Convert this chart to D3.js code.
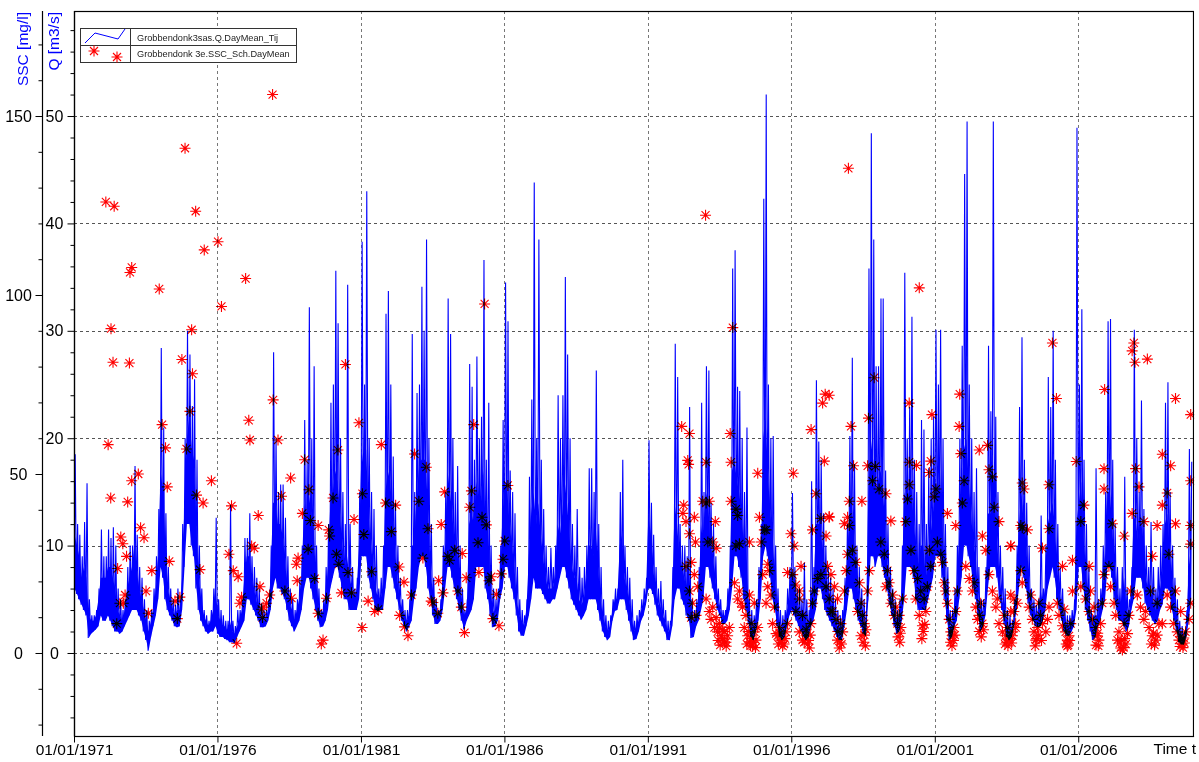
<!DOCTYPE html>
<html>
<head>
<meta charset="utf-8">
<script src="https://cdn.jsdelivr.net/npm/d3@7"></script>
<style>
  body { margin: 0; background: #fff; }
  svg { display: block; font-family: Arial, "Liberation Sans", sans-serif; }
</style>
</head>
<body>
<svg id="chart" width="1199" height="762"></svg>
<script>
// Monthly high / low of the daily discharge Q [m3/s], one block of five years per array
const qHi1971 = [18.5,12,11,9,12.2,15.8,5,3.5,3.5,4,6,11.5, 9,9,11.5,10.7,11.7,10,6,5,4,5,8,10, 10,17.4,11,8,7,5,4,3,4,6,9,13.4, 28.4,21,13,8,6,5,4.5,6,5,12,20,30, 27.8,23,25.5,18,10,6,4,3.5,3,4,6,12.6];
const qLo1971 = [6,5.5,5,4.5,4,3.5,1.4,1.8,2,2.2,2.5,3.5, 3,3,3.5,3,2.5,2,2,1.8,2,2.5,3,3.5, 4,4,4,3.5,3,2,1.2,0.2,1.5,2.5,3.5,5, 8,7,5,4,3.5,3,2.5,2.4,2.5,4,8,12, 12,10,9,6,4,3,2.5,2,1.8,2,2,2.5];
const qHi1976 = [5,4,3.5,3,3,13.8,3,2.5,4,4,5,10.7, 10.7,13,9,8,7,6,4.6,4,4,5,10,28, 20,15,15.7,15.7,12.6,9,6,5,4,5,7,10, 21.7,18,32.2,20,26.7,10,6,4,5,8,12,23.3, 25,35.6,30.7,20,15,12,34.3,12,8,6,7,15];
const qLo1976 = [1.8,1.5,1.5,1.3,1.2,1,1,0.9,1.5,2,2.5,3, 5,5,4.5,4,3.5,3,2.4,2.4,2.5,3,4,6, 7,6,6,5.5,5,4,3,2.5,2,2.5,3,4, 6,7,7,6,5,4,3,2.4,2.5,3,4,6, 7,8,8,7,6,5,5,4,4,4,4,5];
const qHi1981 = [38.3,25,43,20,15,13.4,10,6,7,10,31.6,33.7, 25,18.3,14,10,7,5,4,4,5,29.7,15,24.2, 25,34.1,30,38.5,20,12,7,5,4,5,10,15, 33,29.7,20,15,17.4,10,6,4,5,26.9,24.8,18, 27.6,20,22,36.6,18,23.3,10,6,5,6,10,21.7];
const qLo1981 = [9,9,9,7,6,5,4,3.9,4,4,6,8, 8,7,6,5,4,3,2.5,2,2.5,3,5,6, 8,9,9,8,6,5,3.5,2.7,2.7,3,4,6, 8,8,7,6,5,4,3,2.2,3,3.5,4,5, 8,8,8,8,6,5,3.5,2.4,2.5,3,5,6];
const qHi1986 = [34.5,30.9,17,15,13,8,5,4,3.5,5,16.4,23.6, 43.8,20,38.5,18,13.4,10,8,9.8,8,10,24,20, 24,35,27.8,20,12,10,13.4,8,7,8,10,17.2, 17.2,15,26.3,12,8,5,3.5,3,3.5,5,6,6, 15,18,10,8,7,5,3,3.5,4,5,6,7];
const qLo1986 = [8,8,7,6,5,3.5,2,1.6,1.6,2.5,3.5,5, 7,6,6,6,5.5,5,4.6,4.6,5,5,6,7, 8,8,7,6,5,4.5,4,3.5,3.1,3.5,4,5, 5,5,5,4,3,2,1.5,1.2,1.5,3,3.9,4, 5,5,5,4,3,2,1.2,1.3,2,3,3.5,4.5];
const qHi1991 = [19.8,14,11,8,6,6.7,5,4,3,3,8,28.8, 25.7,12,10,10,9,22.9,5,4,5,8,23.3,15, 26.7,26.3,14,12,9,6,5,4,4,6,10,35.8, 37.5,24.8,24.4,20,15,21,5,4,3.5,5,8,12, 42.3,52,25,20,20.2,10,6,4,3.5,4,6,8];
const qLo1991 = [6,6,5.5,4.5,3.5,3,2.5,2,1.2,1.2,2.5,5, 6,6,5,4.5,3.5,3,1.4,1.5,2.5,3,4,5, 8,8,7,6,5,4,3.5,2.7,2.7,3,4,6, 9,9,8,7,5,4,2.7,1.5,1.2,2,3,5, 9,10,9,7,5,4,2.5,1.5,1.2,1.5,2.5,3.5];
const qHi1996 = [14.9,8,6,6,5,8.4,5,4,16,8,25.4,19.7, 18,13,10,8,7,6,5,4,3.5,4,7,12, 20.2,27.5,17.6,10,8,6,5,4,35.8,48.4,38.5,26.7, 26.7,33,33,17,12,8,6,5,4,5,10,35.4, 20,22.9,31.3,18,15,12,21.7,20.8,12,17.2,20,22];
const qLo1996 = [4,3.5,3,2.5,2,1.5,1.2,1.5,2.5,3,4,6, 6,5,4,3.5,3,2.5,2,1.5,1.2,1.2,2.5,4, 6,6,5,4,3,2.5,1.8,1.6,5,9,9,8, 9,9,8,7,5.8,4.5,3.5,2.5,1.8,2,3,5, 8,8,8,7,5,4,4,4,4,5,6,7];
const qHi2001 = [30.1,25,30.1,20,12,8,4,4,6,10,20,28.6, 44.6,49.5,25,20,15,17.2,8,5,5,8,28.6,22.5, 49.5,22,15,10,8,6,4,3.5,3,5,10,22.9, 29.4,18,14,10,6,5,4.5,5,12.8,6,10,25.7, 22.9,30,18,12,8,6,4,3.5,3.5,4,5,48.9];
const qLo2001 = [9,9,9,7,5,3,1.2,1.5,2.5,3,5,7, 10,10,9,8,6,5,3.5,2,2.5,3.5,6,8, 8,8,7,5,4,2.7,1.5,1.2,1.5,2.5,4,6, 8,7,6,4.6,3.5,3,2.5,2.4,2.5,3,4,6, 7,8,7,5,4,3,2,1.6,1.6,2,2.5,4];
const qHi2006 = [25,32,18,12,8,4,3.5,17.2,5,6,10,15, 30.9,31.1,18,12,8,6,8,16.4,6,5,8,30.1, 20,15,23.5,13.4,10,8,12.2,8,6,8,10,12, 23.3,25.2,15,10,7,5,3,2.5,2,4,19,17.8];
const qLo2006 = [8,8,6,4,3,2,1.2,1.5,2.5,3,4,5, 8,8,7,5,4,3,3,2.5,2,2.5,4,5, 7,7,7,6,4.6,4,3.5,3,2.7,3,4,4.5, 6,6,5.8,4,3,2,1,0.8,0.8,1.5,3,5];
// Monthly top of the densely filled band of daily values
const qBand1971 = [11,10,9,7,8,7,3.5,3,3,3.5,5,7, 7,7,8,8,7,6,4,3.5,3,4,6,7, 8,10,8,6,5,4,3,2,3,4,6,9, 17,15,10,6,5,4,3.5,4,4,7,14,20, 22,19,18,12,7,5,3.5,3,2.5,3,4,6];
const qBand1976 = [3.5,3,2.5,2.5,2,3,2,1.8,2.5,3,4,7, 9,9,7,6,5,4,3.5,3,3,4,7,14, 14,12,12,11,9,6,4.5,4,3,4,5,7, 14,12,15,13,12,7,4.5,3.5,4,5,8,14, 15,17,16,13,10,8,9,7,6,5,6,10];
const qBand1981 = [19,17,19,13,10,8,6,5,5,6,15,17, 16,13,10,7,5,4,3.5,3,3.5,10,10,14, 17,18,18,18,12,8,5,4,3.5,4,7,10, 17,15,13,10,10,7,4.5,3.5,4,12,13,12, 16,14,14,17,12,12,6,4,3.5,4.5,7,13];
const qBand1986 = [16,15,12,10,8,5,3.5,3,2.5,4,9,13, 15,12,14,11,9,7,6,6,6,7,12,11, 13,16,14,11,8,7,7,5,4.5,5,7,10, 10,9,12,8,5,3.5,2.5,2,2.5,4,5,5, 10,11,7,6,5,3.5,2,2.5,3,4,4.5,5.5];
const qBand1991 = [13,11,8,6,4.5,4.5,3.5,3,2,2,5,14, 12,9,8,7,6,9,3,3,3.5,5,12,10, 15,14,10,9,7,5,4,3.5,3.5,4.5,7,17, 18,16,15,13,10,10,4,2.5,2,3.5,5,8, 20,22,17,13,11,7,4,2.5,2,2.5,4,5];
const qBand1996 = [8,6,4.5,4,3.5,4,3,2.5,6,5,12,12, 12,9,7,6,5,4,3.5,2.5,2,2.5,5,8, 13,14,11,7,5,4,3,2.5,15,20,18,15, 16,17,16,12,8,6,4.5,3.5,3,3.5,6,15, 14,15,16,12,10,8,10,10,7,9,11,13];
const qBand2001 = [16,15,17,12,8,5,2.5,2.5,4,6,11,15, 19,20,16,13,10,9,5,3.5,3.5,5,13,13, 18,14,10,7,5,4,2.5,2,2,3.5,6,12, 15,12,10,7,4.5,4,3.5,3.5,6,4.5,6,12, 13,14,12,8,5.5,4.5,3,2.5,2.5,3,3.5,12];
const qBand2006 = [14,16,11,8,5,3,2,3.5,3.5,4.5,6,9, 15,15,12,8,6,4.5,5,7,4,3.5,6,13, 12,10,13,10,7,6,6,5,4,5,6,7.5, 12,13,10,7,5,3.5,2,1.5,1.5,2.5,8,10];

// Suspended sediment concentration SSC [mg/l] samples: [decimal year, value]
const ssc1972 = [[1972.11,126],[1972.40,124.8],[1974.87,141],[1975.24,123.4],[1976.02,114.9],[1975.54,112.6],[1973.01,107.7],[1972.95,106.3],[1973.97,101.7],[1976.98,104.6],[1976.14,96.8],[1972.29,90.6],[1975.10,90.3],[1972.36,81.2],[1972.93,81],[1974.76,82],[1975.13,78],[1975.04,67.5],[1974.07,63.8],[1977.09,65],[1977.13,59.5],[1972.19,58.2],[1974.19,57.3],[1974.92,57],[1973.01,48.1],[1973.24,50],[1975.79,48.1],[1974.25,46.4],[1972.28,43.3],[1972.87,42.2],[1975.27,44.1],[1975.50,41.9],[1976.49,41.1],[1977.42,38.4],[1973.32,35],[1973.44,32.2],[1972.63,32.4],[1972.70,30.5],[1972.83,27],[1972.52,23.6],[1973.71,23],[1974.32,25.6],[1975.39,23.3],[1976.40,27.6],[1976.55,23],[1976.72,21.3],[1977.19,29.9],[1977.28,29.3],[1977.48,18.5],[1973.51,17.3],[1972.78,16.2],[1972.60,13.9],[1972.72,13.9],[1974.52,14.5],[1974.69,15.6],[1976.78,13.9],[1976.84,15.6],[1977.54,12.2],[1973.59,11.1],[1972.49,8.2],[1974.60,9.6],[1976.67,2.7],[1977.57,9.9]];
const ssc1977 = [[1977.92,156],[1977.94,70.7],[1978.11,59.5],[1978.55,48.9],[1978.23,43.8],[1978.96,39],[1979.04,54],[1979.19,45.6],[1979.24,37],[1979.51,35.6],[1979.88,34.4],[1979.91,32.7],[1980.03,43.3],[1980.20,56.7],[1980.46,80.6],[1980.76,37.3],[1980.93,64.3],[1981.05,44.5],[1981.10,33.1],[1981.71,58.2],[1981.86,41.9],[1982.21,41.3],[1982.06,33.9],[1982.87,55.6],[1983.02,42.4],[1983.28,51.9],[1983.34,34.7],[1983.80,35.9],[1983.92,45],[1984.03,27],[1983.71,20.2],[1983.45,14.5],[1982.76,16.2],[1982.64,4.8],[1982.52,7.3],[1982.35,10.5],[1982.50,19.8],[1982.33,24],[1981.48,11.6],[1981.60,12.2],[1981.25,14.5],[1981.37,22.7],[1981.04,7.1],[1980.67,16.8],[1980.32,16.8],[1980.55,22.5],[1980.23,24.8],[1979.80,15.3],[1979.51,11.1],[1979.62,2.5],[1979.68,3.6],[1979.39,20.8],[1978.81,26.5],[1978.75,24.8],[1978.78,20.2],[1978.58,15.3],[1978.35,17.3],[1977.82,16.2],[1977.59,12.8],[1977.71,13.9],[1979.16,29],[1980.15,27.6],[1983.16,26.5],[1983.86,16.8],[1983.51,14.1],[1983.68,11.1]];
const ssc1984 = [[1985.31,97.5],[1984.93,63.8],[1984.85,45.3],[1984.79,40.7],[1985.22,37.9],[1985.37,35.8],[1986.12,46.8],[1985.08,30.8],[1986.01,31.3],[1985.95,26.2],[1984.27,28.7],[1984.53,27.8],[1984.09,25.9],[1984.67,21],[1985.11,22.5],[1985.54,21.3],[1985.89,22.1],[1985.46,20.2],[1985.72,16.4],[1984.38,17.3],[1984.50,12.8],[1984.61,5.7],[1985.60,9.6],[1985.81,7.6]];
const ssc1992 = [[1993.01,122.3],[1992.18,63.3],[1992.45,61.3],[1992.39,53.8],[1992.42,52.7],[1992.25,41.3],[1992.22,39],[1992.33,36.7],[1992.45,33.3],[1992.62,37.9],[1992.66,31],[1992.91,42.4],[1993.03,41.9],[1993.14,42.4],[1993.03,53.3],[1993.35,36.7],[1993.26,31],[1993.38,29.3],[1993.09,31],[1993.96,90.9],[1993.87,61.3],[1993.90,53.3],[1993.90,42.4],[1994.07,40.2],[1994.13,38.4],[1994.07,29.9],[1994.19,30.5],[1994.54,31],[1994.83,50.2],[1994.89,37.9],[1995.06,34.4],[1995.12,34.4],[1994.95,31],[1995.18,24.8],[1995.99,33.3],[1996.07,50.2],[1996.10,29.9],[1996.69,62.4],[1996.86,44.5],[1997.09,69.8],[1997.18,72.3],[1997.15,53.6],[1997.03,37.6],[1997.32,38.1],[1997.21,32.7],[1996.74,34.4],[1996.34,24.2],[1995.87,22.5],
  [1992.33,24.2],[1992.51,25.3],[1992.62,21.9],[1992.74,18.5],[1992.45,17.3],[1992.56,13.9],[1992.68,10.5],[1992.51,9.9],[1993.03,15.1],[1993.14,11.6],[1993.20,9.4],[1993.32,7.1],[1993.43,5.9],[1993.55,4.8],[1993.67,3.1],[1993.73,1.9],[1993.61,6.5],[1993.38,9.9],[1993.49,8.2],[1993.26,12.8],[1993.78,4.8],[1993.84,7.1],[1994.02,19.6],[1994.19,17.3],[1994.25,13.9],[1994.13,15.1],[1994.30,12.8],[1994.36,7.1],[1994.48,4.8],[1994.54,3.1],[1994.65,1.9],[1994.77,3.6],[1994.71,5.9],[1994.60,8.2],[1994.42,10.5],[1994.83,7.1],[1994.54,16.2],[1994.71,13.9],[1995.00,21.9],[1995.18,18.5],[1995.29,16.2],[1995.41,12.8],[1995.12,13.9],[1995.35,8.2],[1995.47,5.4],[1995.23,23],[1995.52,4.8],[1995.64,3.6],[1995.70,1.9],[1995.81,5.9],[1995.87,8.2],[1995.58,7.1],[1996.05,21.9],[1996.16,19],[1996.28,17.3],[1996.16,11.6],[1996.28,5.9],[1996.39,3.6],[1996.57,2.5],[1996.63,1.4],[1996.51,4.8],[1996.68,8.2],[1996.74,13.9],[1996.80,17.3],[1996.92,20.8],[1996.39,10.5],[1996.28,15.1],[1997.03,21.9],[1997.21,18.5],[1997.32,15.1],[1997.38,11.6],[1997.26,24.2],
  [1993.45,3.5],[1993.52,2.2],[1993.60,4],[1993.66,6],[1993.72,3],[1993.50,7],[1994.45,2.5],[1994.50,6],[1994.58,2],[1994.62,4],[1994.68,3],[1994.75,1.5],[1995.55,2.5],[1995.60,5.5],[1995.66,3],[1995.75,2.5],[1995.78,4],[1996.45,3],[1996.52,6.5],[1996.60,3.5],[1996.66,5]];
const ssc1997 = [[1997.99,135.4],[2000.46,102],[1998.89,76.9],[1997.32,72],[2000.11,69.8],[1998.69,65.6],[2000.90,66.6],[1998.08,63.3],[2001.87,72.3],[2001.85,63.3],[2001.91,55.7],[2002.02,48.1],[2002.55,56.7],[2002.84,58],[2002.89,51.2],[2003.01,49.2],[1998.17,52.3],[1998.66,52.3],[1998.83,48.1],[1998.93,52.1],[2000.11,53.3],[2000.36,52.4],[2000.81,50.4],[2000.86,53.6],[2000.11,47],[1999.06,45.8],[1999.30,44.5],[1998.02,42.4],[1998.46,42.4],[1999.47,36.9],[1997.96,37.9],[1998.02,35.6],[1997.85,36.1],[1997.32,37.9],[2000.05,43],[1999.99,36.7],[2001.04,45.8],[2000.98,43.6],[2001.44,39],[2001.73,35.6],[2001.96,41.9],[2002.66,32.7],[2003.07,40.7],[2003.24,36.7],[2003.65,29.9],[2004.00,35.6],
  [1997.38,21.9],[1997.50,18.5],[1997.61,15.1],[1997.44,11.6],[1997.73,8.2],[1997.61,3.6],[1997.67,1.4],[1997.79,5.9],[1997.56,9.4],[1997.85,17.3],[1997.91,23],[1997.96,27.6],[1998.13,28.7],[1998.25,25.3],[1998.37,19.6],[1998.43,13.9],[1998.48,10.5],[1998.54,8.2],[1998.43,4.8],[1998.60,6.5],[1998.31,11.6],[1998.72,23],[1998.66,17.3],[1999.12,31],[1999.24,27.6],[1999.35,23],[1999.41,19.6],[1999.53,16.2],[1999.65,12.8],[1999.76,10.5],[1999.82,7.1],[1999.70,8.2],[1999.59,10.5],[1999.47,13.9],[1999.88,15.1],[1999.30,18.5],[2000.17,28.7],[2000.28,23],[2000.40,20.8],[2000.51,17.3],[2000.63,15.1],[2000.69,11.6],[2000.57,7.6],[2000.46,10.5],[2000.74,18.5],[2000.86,24.2],[2000.81,28.7],[2000.34,15.1],[2001.09,31],[2001.21,27.6],[2001.33,19.6],[2001.44,13.9],[2001.50,9.4],[2001.56,5.9],[2001.62,4.8],[2001.67,7.1],[2001.73,11.6],[2001.38,17.3],[2001.27,25.3],[2001.79,17.3],[2002.08,24.2],[2002.20,20.8],[2002.31,17.3],[2002.43,12.8],[2002.49,9.4],[2002.55,10.5],[2002.66,8.2],[2002.60,13.9],[2002.37,19.6],[2002.78,28.7],[2002.89,21.9],[2003.01,17.3],[2003.13,12.8],[2003.24,8.2],[2003.36,5.9],[2003.47,4.8],[2003.59,3.6],[2003.71,5.9],[2003.82,8.2],[2003.42,10.5],[2003.53,7.1],[2003.65,11.6],[2003.76,15.1],[2003.18,15.1],[2004.00,23],[2004.05,19.6],
  [1997.62,6],[1997.70,3],[1997.75,2.5],[1998.50,3],[1998.55,5],[1998.58,2],[1999.72,4.5],[1999.78,3],[1999.80,5.5],[2000.55,4],[2000.60,6],[2000.65,8],[2001.55,3],[2001.60,2],[2001.65,3.5],[2001.70,5],[2002.55,6],[2002.62,4.5],[2002.70,6.5],[2003.45,2.5],[2003.50,3],[2003.55,2],[2003.62,4],[2003.68,2.8]];
const ssc2004 = [[2005.10,86.6],[2005.24,71.1],[2007.94,86.6],[2007.88,84.4],[2007.98,81.2],[2008.41,82.1],[2006.92,73.6],[2009.39,71.1],[2009.92,66.6],[2005.93,53.5],[2008.93,55.5],[2009.22,52.3],[2006.90,51.5],[2008.00,51.5],[2004.05,47.5],[2004.11,45.8],[2004.98,47],[2006.90,45.8],[2008.12,46.4],[2009.10,44.7],[2009.92,48.1],[2003.65,29.9],[2004.05,35],[2004.23,34.4],[2004.98,34.7],[2006.20,41.3],[2006.09,36.7],[2007.19,36.1],[2007.60,32.7],[2007.88,39],[2008.29,36.7],[2008.75,35.6],[2008.93,41.3],[2009.39,36.1],[2009.92,35.6],[2009.92,30.4],[2008.58,27],[2009.16,27.6],[2004.75,29.3],[2005.80,25.9],[2005.45,24.2],[2006.38,24.2],[2007.07,24.2],
  [2003.65,16.2],[2003.76,11.6],[2003.82,7.1],[2003.71,4.8],[2003.88,13.9],[2004.29,12.8],[2004.40,9.4],[2004.46,5.9],[2004.52,3.6],[2004.58,7.1],[2004.69,10.5],[2004.75,8.2],[2004.87,5.9],[2004.93,9.4],[2004.63,13.9],[2004.34,16.2],[2004.98,12.8],[2005.27,13.9],[2005.33,10.5],[2005.45,7.6],[2005.56,5.9],[2005.62,3.6],[2005.68,4.8],[2005.74,8.2],[2005.51,12.2],[2005.80,17.3],[2005.62,1.9],[2006.09,18.5],[2006.26,15.1],[2006.38,11.6],[2006.49,9.4],[2006.61,7.1],[2006.66,4.8],[2006.72,3.6],[2006.55,12.8],[2006.43,17.3],[2006.84,13.9],[2006.90,21.9],[2006.78,8.2],[2007.13,18.5],[2007.25,13.9],[2007.31,10.5],[2007.42,5.9],[2007.48,1.4],[2007.54,0.8],[2007.66,2.5],[2007.72,5.4],[2007.60,8.2],[2007.77,10.5],[2007.37,3.6],[2007.83,17.3],[2008.06,16.2],[2008.17,12.8],[2008.29,9.4],[2008.35,11.6],[2008.47,7.1],[2008.58,4.8],[2008.70,3.6],[2008.81,8.2],[2008.93,8.2],[2008.52,17.3],[2008.75,13.9],[2009.10,16.2],[2009.22,12.8],[2009.33,8.2],[2009.45,5.9],[2009.51,3.6],[2009.62,2.5],[2009.68,4.2],[2009.74,5.9],[2009.86,9.4],[2009.92,13.9],[2009.39,17.3],[2009.57,11.6],
  [2004.50,2],[2004.55,4],[2004.62,5],[2004.72,3.5],[2005.58,2.5],[2005.65,2.2],[2005.70,3.5],[2006.62,2.2],[2006.68,5.5],[2006.70,2],[2007.45,2.8],[2007.50,3.5],[2007.58,1.5],[2007.62,4],[2008.55,2.5],[2008.62,5.5],[2008.66,2.2],[2008.75,5],[2009.55,1.8],[2009.58,4.5],[2009.65,1.5],[2009.70,2.8]];

// Axis ticks and legend
const tickYears = [1971, 1976, 1981, 1986, 1991, 1996, 2001, 2006];
const qTicks = [0, 10, 20, 30, 40, 50];
const sscTicks = [0, 50, 100, 150];
const legendLabels = ["Grobbendonk3sas.Q.DayMean_Tij", "Grobbendonk 3e.SSC_Sch.DayMean"];

// Layout
const plot = { left: 74, right: 1193, top: 11, bottom: 736 };
const qExtent = [-7.73, 59.78];   // visible range of the Q axis
const sscFactor = 3;              // SSC axis = 3 x Q axis

const svg = d3.select("#chart");

const x = d3.scaleUtc()
    .domain([new Date(Date.UTC(1971, 0, 1)), new Date(Date.UTC(2010, 0, 1))])
    .range([plot.left, plot.right]);
const yQ = d3.scaleLinear().domain(qExtent).range([plot.bottom, plot.top]);
const ySSC = d3.scaleLinear().domain(qExtent.map(d => d * sscFactor)).range([plot.bottom, plot.top]);

// Decimal year -> Date
function yearToDate(y) {
    const yr = Math.floor(y);
    const a = Date.UTC(yr, 0, 1), b = Date.UTC(yr + 1, 0, 1);
    return new Date(a + (y - yr) * (b - a));
}

// Build the discharge series from the monthly blocks
const qBlocks = [
    { start: 1971, hi: qHi1971, lo: qLo1971, band: qBand1971 },
    { start: 1976, hi: qHi1976, lo: qLo1976, band: qBand1976 },
    { start: 1981, hi: qHi1981, lo: qLo1981, band: qBand1981 },
    { start: 1986, hi: qHi1986, lo: qLo1986, band: qBand1986 },
    { start: 1991, hi: qHi1991, lo: qLo1991, band: qBand1991 },
    { start: 1996, hi: qHi1996, lo: qLo1996, band: qBand1996 },
    { start: 2001, hi: qHi2001, lo: qLo2001, band: qBand2001 },
    { start: 2006, hi: qHi2006, lo: qLo2006, band: qBand2006 }
];
const qSpikes = [], qBand = [];
qBlocks.forEach(b => {
    b.hi.forEach((h, i) => {
        const yr = b.start + Math.floor(i / 12), m = i % 12;
        qSpikes.push({ date: new Date(Date.UTC(yr, m, 1)), value: b.lo[i] });
        qSpikes.push({ date: new Date(Date.UTC(yr, m, 16)), value: h });
        qBand.push({ date: new Date(Date.UTC(yr, m, 8)), lo: b.lo[i], hi: b.band[i] });
    });
});

const sscSeries = [].concat(ssc1972, ssc1977, ssc1984, ssc1992, ssc1997, ssc2004)
    .map(d => ({ date: yearToDate(d[0]), value: d[1] }));

// Clip to the plot area
svg.append("defs").append("clipPath").attr("id", "plotClip")
    .append("rect")
    .attr("x", plot.left).attr("y", plot.top)
    .attr("width", plot.right - plot.left).attr("height", plot.bottom - plot.top);

// Gridlines
const grid = svg.append("g").attr("stroke", "#555").attr("stroke-dasharray", "3,3").attr("stroke-width", 1);
qTicks.forEach(t => {
    const y = Math.round(yQ(t)) + 0.5;
    grid.append("line").attr("x1", plot.left).attr("x2", plot.right).attr("y1", y).attr("y2", y);
});
tickYears.slice(1).forEach(t => {
    const xx = Math.round(x(new Date(Date.UTC(t, 0, 1)))) + 0.5;
    grid.append("line").attr("x1", xx).attr("x2", xx).attr("y1", plot.top).attr("y2", plot.bottom)
        .attr("stroke", "#777");
});

// Discharge: dense band of daily values plus the monthly peaks
const area = d3.area().x(d => x(d.date)).y0(d => yQ(d.lo)).y1(d => yQ(d.hi));
svg.append("path")
    .datum(qBand)
    .attr("clip-path", "url(#plotClip)")
    .attr("fill", "#0000ff")
    .attr("d", area);
svg.append("path")
    .datum(qSpikes)
    .attr("clip-path", "url(#plotClip)")
    .attr("fill", "none")
    .attr("stroke", "#0000ff")
    .attr("stroke-width", 1.1)
    .attr("d", d3.line().x(d => x(d.date)).y(d => yQ(d.value)));

// SSC asterisks; multiply blending turns them black where they cross the blue line
const star = "M-5.5,0H5.5M0,-5.5V5.5M-4,-4L4,4M-4,4L4,-4";
sscSeries.forEach(d => {
    svg.append("path")
        .attr("d", star)
        .attr("transform", `translate(${x(d.date)},${ySSC(d.value)})`)
        .attr("fill", "none")
        .attr("stroke", "#ff0000")
        .attr("stroke-width", 1.1)
        .style("mix-blend-mode", "multiply");
});

// Plot frame
svg.append("rect")
    .attr("x", plot.left + 0.5).attr("y", plot.top + 0.5)
    .attr("width", plot.right - plot.left).attr("height", plot.bottom - plot.top)
    .attr("fill", "none").attr("stroke", "#000").attr("stroke-width", 1.2);
// white margin to the right of the frame hides marks that run past it
svg.append("rect")
    .attr("x", plot.right + 1.2).attr("y", 0)
    .attr("width", 10).attr("height", plot.bottom)
    .attr("fill", "#fff");

// Bottom axis
const xAxis = svg.append("g")
    .attr("transform", `translate(0,${plot.bottom + 0.5})`)
    .call(d3.axisBottom(x)
        .tickValues(tickYears.map(t => new Date(Date.UTC(t, 0, 1))))
        .tickFormat(d3.utcFormat("%d/%m/%Y"))
        .tickSize(6).tickSizeOuter(0).tickPadding(1));
xAxis.select(".domain").remove();
xAxis.selectAll("text").attr("font-size", "15.5px").attr("fill", "#000").attr("font-family", null);
xAxis.selectAll("line").attr("stroke", "#000");

svg.append("text")
    .attr("x", 1196).attr("y", plot.bottom + 18)
    .attr("text-anchor", "end")
    .attr("font-size", "15.5px")
    .text("Time t");

// Left axes: inner Q axis and outer SSC axis
function leftAxis(scale, xPos, major, minorStep, labelOffset) {
    const [d0, d1] = scale.domain();
    const minor = d3.range(Math.ceil(d0 / minorStep) * minorStep, d1, minorStep)
        .filter(v => !major.includes(v));
    const gMin = svg.append("g").attr("transform", `translate(${xPos + 0.5},0)`);
    gMin.call(d3.axisLeft(scale).tickValues(minor).tickSize(4).tickSizeOuter(0).tickFormat(""));
    gMin.select(".domain").remove();
    const gMaj = svg.append("g").attr("transform", `translate(${xPos + 0.5},0)`);
    gMaj.call(d3.axisLeft(scale).tickValues(major).tickSize(7).tickSizeOuter(0));
    gMaj.select(".domain").remove();
    gMaj.selectAll("text")
        .attr("x", -labelOffset)
        .attr("text-anchor", "middle")
        .attr("font-size", "16px")
        .attr("font-family", null)
        .attr("fill", "#000");
    svg.append("line")
        .attr("x1", xPos + 0.5).attr("x2", xPos + 0.5)
        .attr("y1", plot.top).attr("y2", plot.bottom)
        .attr("stroke", "#000").attr("stroke-width", 1.2);
    svg.selectAll(".tick line").attr("stroke", "#000");
}
leftAxis(yQ, plot.left, qTicks, 2, 20);
leftAxis(ySSC, 42, sscTicks, 10, 24);

// Axis titles
svg.append("text")
    .attr("transform", "translate(28,12) rotate(-90)")
    .attr("text-anchor", "end")
    .attr("font-size", "15.5px")
    .attr("fill", "#0000ff")
    .text("SSC [mg/l]");
svg.append("text")
    .attr("transform", "translate(59,12) rotate(-90)")
    .attr("text-anchor", "end")
    .attr("font-size", "15.5px")
    .attr("fill", "#0000ff")
    .text("Q [m3/s]");

// Legend
const legend = svg.append("g");
legend.append("rect")
    .attr("x", 80.5).attr("y", 28.5).attr("width", 216).attr("height", 34)
    .attr("fill", "#fff").attr("stroke", "#333");
legend.append("line").attr("x1", 130.5).attr("x2", 130.5).attr("y1", 28.5).attr("y2", 62.5).attr("stroke", "#333");
legend.append("line").attr("x1", 80.5).attr("x2", 296.5).attr("y1", 45.5).attr("y2", 45.5).attr("stroke", "#333");
legend.append("path")
    .attr("d", "M85,43L95,33L118,39L125,29")
    .attr("fill", "none").attr("stroke", "#0000ff").attr("stroke-width", 1);
[[94, 51], [117, 57]].forEach(p => {
    legend.append("path")
        .attr("d", star)
        .attr("transform", `translate(${p[0]},${p[1]})`)
        .attr("fill", "none").attr("stroke", "#ff0000").attr("stroke-width", 1.1);
});
legendLabels.forEach((t, i) => {
    legend.append("text")
        .attr("x", 137).attr("y", 40.5 + i * 16)
        .attr("font-size", "9.2px")
        .attr("fill", "#222")
        .text(t);
});
</script>
</body>
</html>
